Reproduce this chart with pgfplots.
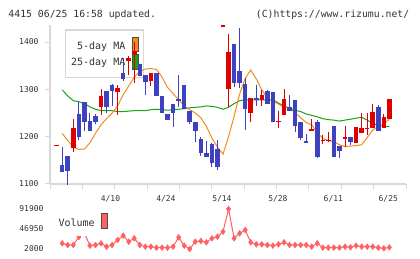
\documentclass[border=0pt]{standalone}
\usepackage{pgfplots}
\usepackage{pgfplotstable}
\usepackage{fontspec}
\pgfplotsset{compat=1.18}
\newfontfamily\mono{DejaVu Sans Mono}

\definecolor{upred}{RGB}{220,0,0}
\definecolor{downblue}{RGB}{62,66,190}
\definecolor{maorange}{RGB}{242,140,30}
\definecolor{magreen}{RGB}{20,165,20}
\definecolor{volred}{RGB}{255,96,96}
\definecolor{axisgray}{RGB}{216,216,216}
\definecolor{txt}{RGB}{50,50,50}

% candle drawn as two error bars: wick (low to high) and body (open to close)
\pgfplotsset{
  candlebar/.style n args={2}{draw=none, mark=none, forget plot,
    error bars/.cd, y dir=plus, y explicit, error mark=none,
    error bar style={line width=#1, draw=#2, solid}},
}

% daily candles: slot, open, high, low, close
\pgfplotstableread{
i o h l c
0 1181 1183 1181 1183
3 1177 1237 1168 1218
8 1262 1301 1246 1286
11 1295 1309 1246 1302
13 1359 1371 1330 1367
14 1374 1401 1314 1380
17 1318 1335 1308 1335
30 1432 1435 1432 1435
31 1300 1417 1263 1379
35 1251 1281 1232 1281
37 1277 1299 1265 1288
40 1232 1254 1219 1234
41 1246 1301 1246 1280
46 1211 1237 1211 1217
48 1190 1204 1185 1194
49 1190 1209 1189 1194
52 1195 1223 1179 1200
54 1187 1220 1187 1220
55 1208 1249 1208 1219
56 1217 1249 1204 1219
57 1218 1269 1218 1252
59 1219 1248 1219 1241
60 1237 1280 1237 1280
}\upcandles

\pgfplotstableread{
i o h l c
1 1140 1179 1126 1126
2 1159 1159 1098 1128
4 1248 1274 1192 1200
5 1273 1273 1211 1232
6 1233 1249 1211 1213
7 1244 1248 1227 1232
9 1297 1297 1251 1262
10 1309 1311 1265 1297
12 1335 1366 1318 1321
15 1354 1354 1329 1329
16 1330 1330 1288 1316
18 1335 1335 1286 1286
19 1286 1286 1251 1251
20 1247 1247 1235 1235
21 1269 1269 1221 1251
22 1280 1330 1262 1275
23 1309 1309 1258 1258
24 1254 1254 1226 1230
25 1231 1231 1189 1211
26 1195 1200 1159 1165
27 1165 1191 1156 1156
28 1184 1187 1135 1144
29 1174 1193 1130 1135
32 1396 1396 1304 1314
33 1339 1429 1302 1314
34 1311 1323 1214 1258
36 1281 1309 1265 1277
38 1297 1299 1269 1269
39 1295 1295 1230 1230
42 1263 1288 1255 1255
43 1278 1278 1209 1223
44 1232 1232 1193 1197
45 1191 1206 1186 1186
47 1232 1235 1154 1158
50 1223 1223 1156 1158
51 1180 1180 1154 1170
53 1200 1200 1182 1188
58 1262 1267 1211 1211
}\downcandles

% moving averages
\pgfplotstableread{
i v
1 1207
2 1192
3 1178
4 1173
5 1174
6 1187
7 1207
8 1225
9 1238
10 1250
11 1265
12 1289
13 1307
14 1326
15 1338
16 1343
17 1344
18 1342
19 1326
20 1304
21 1291
22 1278
23 1265
24 1257
25 1250
26 1240
27 1222
28 1197
29 1178
30 1163
31 1200
32 1243
33 1290
34 1323
35 1341
36 1322
37 1299
38 1281
39 1275
40 1269
41 1262
42 1260
43 1251
44 1240
45 1230
46 1225
47 1209
48 1196
49 1192
50 1189
51 1183
52 1179
53 1180
54 1181
55 1183
56 1198
57 1214
58 1221
59 1227
60 1237
}\mafive

\pgfplotstableread{
i v
1 1299
2 1286
3 1276
4 1274
5 1270
6 1263
7 1258
8 1255
9 1255
10 1255
11 1253
12 1253
13 1254
14 1255
15 1255
16 1255
17 1257
18 1258
19 1257
20 1256
21 1257
22 1258
23 1259
24 1261
25 1262
26 1263
27 1265
28 1264
29 1262
30 1258
31 1262
32 1270
33 1276
34 1278
35 1278
36 1278
37 1278
38 1278
39 1278
40 1271
41 1265
42 1260
43 1256
44 1253
45 1248
46 1245
47 1242
48 1238
49 1236
50 1235
51 1233
52 1235
53 1237
54 1239
55 1241
56 1235
57 1228
58 1224
59 1222
60 1221
}\matwentyfive

% daily volume
\pgfplotstableread{
i v
1 14740
2 10990
3 10990
4 29000
5 38000
6 9490
7 10990
8 14740
9 7240
10 10990
11 22230
12 31970
13 18480
14 25980
15 10990
16 7240
17 7240
18 5000
19 5000
20 5000
21 7240
22 28230
23 9490
24 2000
25 18480
26 19980
27 16990
28 25980
29 29720
30 40950
31 91900
32 25980
33 37210
34 44700
35 16990
36 12490
37 12490
38 10990
39 9490
40 12490
41 16990
42 10990
43 10990
44 10990
45 10990
46 7240
47 14740
48 5000
49 5000
50 5000
51 5000
52 7240
53 5750
54 9490
55 7240
56 7240
57 7240
58 5000
59 3500
60 5750
}\volume

\begin{document}
\begin{tikzpicture}
\useasboundingbox (0,0) rectangle (420bp,259bp);

% header
\node[anchor=base west, inner sep=0, text=txt, font=\mono\fontsize{9.8bp}{11bp}\selectfont]
  at (8.3bp,241.7bp) {4415 06/25 16:58 updated.};
\node[anchor=base east, inner sep=0, text=txt, font=\mono\fontsize{9.8bp}{11bp}\selectfont]
  at (409.5bp,241.7bp) {(C)https://www.rizumu.net/};

% legend of the moving averages
\draw[draw=axisgray, line width=1.5bp, fill=white] (65.7bp,181.7bp) rectangle (143.3bp,229bp);
\node[anchor=base east, inner sep=0, text=txt, font=\mono\fontsize{10bp}{12bp}\selectfont]
  at (125.5bp,209.5bp) {5-day MA};
\node[anchor=base east, inner sep=0, text=txt, font=\mono\fontsize{10bp}{12bp}\selectfont]
  at (125.5bp,193.3bp) {25-day MA};
\draw[fill=maorange, draw=black!70, line width=0.8bp] (132.5bp,207.3bp) rectangle (138bp,221.7bp);
\draw[fill=magreen, draw=black!70, line width=0.8bp] (132.5bp,189.7bp) rectangle (138bp,205bp);

\begin{axis}[
  at={(50bp,75bp)}, anchor=south west,
  scale only axis, width=356bp, height=159bp,
  xmin=-1.2, xmax=63, ymin=1100, ymax=1436,
  clip=false,
  axis lines=left,
  axis line style={-, draw=axisgray, line width=1.5bp},
  tick align=outside, major tick length=5bp,
  tick style={draw=axisgray, line width=1bp},
  ytick={1100,1200,1300,1400},
  yticklabel style={font=\mono\fontsize{8bp}{9bp}\selectfont, text=txt, xshift=-3bp},
  /pgf/number format/assume math mode=true,
  /pgf/number format/set thousands separator={},
  xtick={-1.2,4.64,10.47,16.31,22.14,27.98,33.82,39.65,45.49,51.32,57.16,63.0},
  xticklabels={},
  extra x ticks={9.7,19.7,29.8,39.9,49.9,59.8},
  extra x tick labels={4/10,4/24,5/14,5/28,6/11,6/25},
  extra x tick style={
    tick style={draw=none},
    xticklabel style={font=\mono\fontsize{8bp}{9bp}\selectfont, text=txt, anchor=base, yshift=-12bp}},
]
\addplot[magreen, line width=1bp] table[x=i, y=v] {\matwentyfive};
\addplot[maorange, line width=1bp] table[x=i, y=v] {\mafive};

% wicks
\addplot[candlebar={1bp}{upred}]
  table[x=i, y=l, y error plus expr=\thisrow{h}-\thisrow{l}] {\upcandles};
\addplot[candlebar={1bp}{downblue}]
  table[x=i, y=l, y error plus expr=\thisrow{h}-\thisrow{l}] {\downcandles};
% bodies
\addplot[candlebar={4.6bp}{upred}]
  table[x=i, y=o, y error plus expr=\thisrow{c}-\thisrow{o}] {\upcandles};
\addplot[candlebar={4.6bp}{downblue}]
  table[x=i, y=c, y error plus expr=\thisrow{o}-\thisrow{c}] {\downcandles};
\end{axis}

\begin{axis}[
  at={(50bp,6bp)}, anchor=south west,
  scale only axis, width=356bp, height=48bp,
  xmin=-1.2, xmax=63, ymin=-6990, ymax=100890,
  clip=false,
  axis line style={draw=none},
  tick style={draw=none}, tick align=inside,
  xtick=\empty,
  ytick={2000,46950,91900},
  yticklabels={2000,46950,91900},
  scaled y ticks=false,
  yticklabel style={font=\mono\fontsize{8bp}{9bp}\selectfont, text=txt, xshift=-3bp},
]
\addplot[volred, line width=1bp, mark=diamond*, mark size=3bp,
  mark options={fill=volred, draw=volred, line width=0.3bp}]
  table[x=i, y=v] {\volume};
\end{axis}

% volume legend
\fill[white] (55bp,22.5bp) rectangle (112bp,54bp);
\node[anchor=base west, inner sep=0, text=txt, font=\mono\fontsize{10bp}{12bp}\selectfont]
  at (58.3bp,32.3bp) {Volume};
\draw[fill=volred, draw=black!70, line width=0.8bp] (101.7bp,30.7bp) rectangle (107.3bp,45.7bp);
\end{tikzpicture}
\end{document}
